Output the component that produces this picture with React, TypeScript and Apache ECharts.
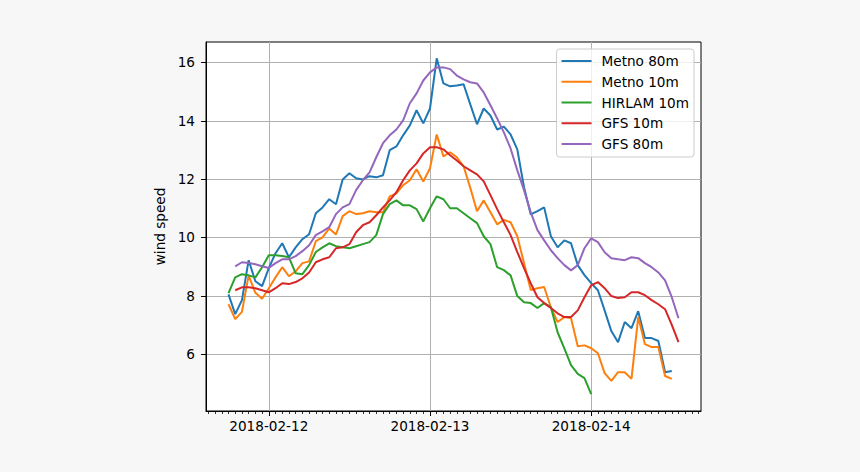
import React, { useEffect, useRef } from "react";
import * as echarts from "echarts";

// hours relative to 2018-02-12 00:00
const metnoStart = -6;
const gfsStart = -5;

const metno80 = [
  8.05, 7.37, 7.85, 9.22, 8.5, 8.33,
  8.95, 9.46, 9.8, 9.32, 9.66, 9.94, 10.11, 10.83, 11.03, 11.31, 11.14,
  11.99, 12.2, 12.03, 11.99, 12.1, 12.06, 12.13, 12.99, 13.12, 13.5,
  13.84, 14.36, 13.91, 14.42, 16.14, 15.28, 15.18, 15.21, 15.25, 14.56,
  13.88, 14.42, 14.18, 13.7, 13.8, 13.53, 13.02, 11.72, 10.79, 10.9,
  11.03, 10.04, 9.66, 9.9, 9.8, 9.05, 8.71, 8.43, 8.19, 7.5,
  6.79, 6.41, 7.1, 6.89, 7.47, 6.55, 6.55, 6.45, 5.38, 5.42,
];

const metno10 = [
  7.71, 7.2, 7.45, 8.7, 8.1, 7.9,
  8.26, 8.63, 8.98, 8.67, 8.84, 9.12, 9.18, 9.87, 10.0, 10.31, 10.1,
  10.73, 10.9, 10.8, 10.83, 10.9, 10.86, 10.86, 11.41, 11.51, 11.79,
  11.96, 12.34, 11.92, 12.37, 13.53, 12.78, 12.92, 12.75, 12.44, 11.7,
  10.9, 11.27, 10.86, 10.45, 10.6, 10.52, 10.04, 9.12, 8.2, 8.26,
  8.3, 7.6, 7.1, 7.27, 7.23, 6.27, 6.3, 6.2, 6.03, 5.35,
  5.08, 5.38, 5.38, 5.15, 7.27, 6.34, 6.24, 6.24, 5.25, 5.15,
];

const hirlam10 = [
  8.09, 8.63, 8.74, 8.7, 8.63, 8.98,
  9.39, 9.39, 9.36, 9.32, 8.77, 8.74, 9.05, 9.5, 9.66, 9.8, 9.7,
  9.66, 9.63, 9.7, 9.77, 9.84, 10.08, 10.8, 11.14, 11.27, 11.1,
  11.1, 10.97, 10.55, 11.0, 11.41, 11.31, 11.0, 11.0, 10.83, 10.66,
  10.49, 10.04, 9.77, 8.98, 8.88, 8.7, 7.99, 7.78, 7.75, 7.58,
  7.75, 7.61, 6.75, 6.2, 5.62, 5.32, 5.18, 4.63,
];

const gfs10 = [
  8.19, 8.29, 8.29, 8.26, 8.19,
  8.12, 8.26, 8.43, 8.4, 8.47, 8.6, 8.8, 9.15, 9.25, 9.32, 9.63,
  9.66, 9.77, 10.18, 10.42, 10.52, 10.76, 11.03, 11.27, 11.55, 11.96,
  12.3, 12.54, 12.88, 13.09, 13.09, 13.02, 12.82, 12.64, 12.44, 12.3,
  12.16, 11.92, 11.45, 10.97, 10.52, 10.08, 9.5, 8.95, 8.43, 7.95,
  7.75, 7.58, 7.4, 7.27, 7.27, 7.5, 7.95, 8.36, 8.47, 8.26,
  7.99, 7.92, 7.95, 8.12, 8.12, 8.02, 7.85, 7.71, 7.54, 7.0, 6.41,
];

const gfs80 = [
  9.01, 9.15, 9.12, 9.08, 9.01,
  8.95, 9.12, 9.25, 9.25, 9.36, 9.53, 9.73, 10.08, 10.21, 10.35, 10.8,
  11.03, 11.14, 11.62, 11.96, 12.23, 12.75, 13.23, 13.5, 13.7, 14.01,
  14.6, 14.94, 15.38, 15.66, 15.83, 15.83, 15.77, 15.55, 15.42, 15.32,
  15.28, 14.97, 14.53, 14.08, 13.6, 13.05, 12.3, 11.62, 10.86, 10.25,
  9.9, 9.56, 9.29, 9.05, 8.87, 9.05, 9.63, 9.97, 9.84, 9.49,
  9.29, 9.25, 9.22, 9.32, 9.29, 9.12, 8.98, 8.8, 8.53, 7.95, 7.23,
];

const seriesNames = ["Metno 80m", "Metno 10m", "HIRLAM 10m", "GFS 10m", "GFS 80m"];
const seriesColors = ["#1f77b4", "#ff7f0e", "#2ca02c", "#d62728", "#9467bd"];
const seriesData = [metno80, metno10, hirlam10, gfs10, gfs80];
const seriesStarts = [metnoStart, metnoStart, metnoStart, gfsStart, gfsStart];

const xTickHours = [0, 24, 48];
const xTickLabels = ["2018-02-12", "2018-02-13", "2018-02-14"];
const xMinorHours: number[] = [];
for (let h = -9; h <= 64; h++) xMinorHours.push(h);
const yTicks = [6, 8, 10, 12, 14, 16];

const FONT = "DejaVu Sans";
const FS = 13.6;

export default function App() {
  const ref = useRef<HTMLDivElement>(null);
  useEffect(() => {
    if (!ref.current) return;
    const chart = echarts.init(ref.current, null, { renderer: "svg" });
    const xMin = -9.35;
    const xMax = 64.35;
    chart.setOption({
      animation: false,
      backgroundColor: "#f7f7f7",
      textStyle: { fontFamily: FONT },
      grid: {
        left: 206,
        right: 159,
        top: 42,
        bottom: 61,
        show: true,
        backgroundColor: "#ffffff",
        borderColor: "#000000",
        borderWidth: 1,
      },
      legend: {
        show: true,
        orient: "vertical",
        right: 166,
        top: 49,
        padding: [5, 5, 6, 5],
        itemGap: 6.75,
        itemWidth: 30,
        itemHeight: 14,
        icon: "path://M0,0L30,0L30,2L0,2Z",
        backgroundColor: "rgba(255,255,255,0.8)",
        borderColor: "#cccccc",
        borderWidth: 1,
        borderRadius: 3,
        textStyle: {
          fontFamily: FONT,
          fontSize: FS,
          color: "#000",
          padding: [0, 0, 0, 5],
        },
        data: seriesNames,
      },
      xAxis: [
        {
          type: "value",
          min: xMin,
          max: xMax,
          axisLine: { show: true, onZero: false, lineStyle: { color: "#000", width: 1 } },
          axisTick: {
            show: true,
            customValues: xTickHours,
            length: 5,
            lineStyle: { color: "#000", width: 1 },
          },
          axisLabel: {
            show: true,
            customValues: xTickHours,
            formatter: (v: number) => {
              const i = xTickHours.indexOf(Math.round(v));
              return i >= 0 ? xTickLabels[i] : "";
            },
            color: "#000",
            fontFamily: FONT,
            fontSize: FS,
            margin: 8,
          },
          splitLine: { show: true, lineStyle: { color: "#b0b0b0", width: 1 } },
        },
        {
          type: "value",
          min: xMin,
          max: xMax,
          position: "bottom",
          axisLine: { show: false, onZero: false },
          axisTick: {
            show: true,
            customValues: xMinorHours,
            length: 3,
            lineStyle: { color: "#000", width: 0.8 },
          },
          axisLabel: { show: false },
          splitLine: { show: false },
        },
      ],
      yAxis: {
        type: "value",
        min: 4.05,
        max: 16.7,
        name: "wind speed",
        nameLocation: "middle",
        nameGap: 31,
        nameTextStyle: { fontFamily: FONT, fontSize: FS, color: "#000" },
        axisLine: { show: true, onZero: false, lineStyle: { color: "#000", width: 1 } },
        axisTick: {
          show: true,
          customValues: yTicks,
          length: 5,
          lineStyle: { color: "#000", width: 1 },
        },
        axisLabel: {
          show: true,
          customValues: yTicks,
          color: "#000",
          fontFamily: FONT,
          fontSize: FS,
          margin: 11,
        },
        splitLine: { show: true, lineStyle: { color: "#b0b0b0", width: 1 } },
      },
      series: seriesNames.map((name, k) => ({
        name,
        type: "line",
        xAxisIndex: 0,
        data: seriesData[k].map((v, i) => [seriesStarts[k] + i, v]),
        symbol: "none",
        showSymbol: false,
        color: seriesColors[k],
        lineStyle: { color: seriesColors[k], width: 2 },
        itemStyle: { color: seriesColors[k] },
      })),
    });
    return () => chart.dispose();
  }, []);
  return (
    <div
      ref={ref}
      style={{ position: "absolute", left: 0, top: 0, width: 860, height: 472 }}
    />
  );
}
